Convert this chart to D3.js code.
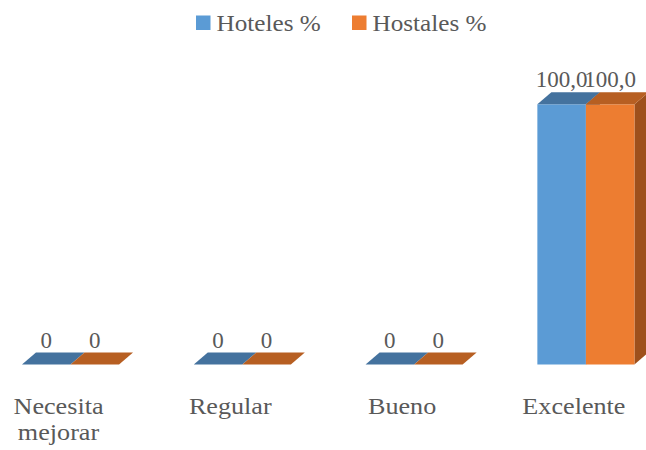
<!DOCTYPE html>
<html>
<head>
<meta charset="utf-8">
<script src="https://cdn.jsdelivr.net/npm/d3@7"></script>
<style>
  html, body { margin: 0; padding: 0; background: #fff; }
  svg { display: block; }
</style>
</head>
<body>
<svg id="chart" width="646" height="450"></svg>
<script>
// Ratings and percentages for hotels and hostels
const categories = [["Necesita", "mejorar"], ["Regular"], ["Bueno"], ["Excelente"]];
const seriesNames = ["Hoteles %", "Hostales %"];
const hoteles = [0, 0, 0, 100];
const hostales = [0, 0, 0, 100];
const valueLabels = [["0", "0", "0", "100,0"], ["0", "0", "0", "100,0"]];

const colors = [
  { front: "#5B9BD5", top: "#44729E", side: "#3E6C96" },
  { front: "#ED7D31", top: "#B75F22", side: "#9E501C" }
];
const FONT = '"Liberation Serif"';
const TEXT_COLOR = "#595959";

const svg = d3.select("#chart");
const depthX = 14, depthY = 12;

const x0 = d3.scaleBand()
  .domain(d3.range(categories.length))
  .range([-15.4, 671.8])
  .paddingInner(0.435)
  .paddingOuter(0.2175);

const x1 = d3.scaleBand()
  .domain(d3.range(seriesNames.length))
  .range([0, x0.bandwidth()]);

const y = d3.scaleLinear().domain([0, 100]).range([364.5, 104.3]);

const series = [hoteles, hostales];

// Text placed at (x, y), slightly widened horizontally
function label(x, yy, size, sx) {
  return svg.append("text")
    .attr("transform", `translate(${x},${yy}) scale(${sx},1)`)
    .style("font-family", FONT)
    .style("font-size", size + "px")
    .style("fill", TEXT_COLOR);
}

// Draw each series as pseudo-3D prisms: side, front, top faces
series.forEach((vals, s) => {
  const g = svg.append("g");
  vals.forEach((v, i) => {
    const xl = x0(i) + x1(s);
    const w = x1.bandwidth();
    const yt = y(v), yb = y(0);
    if (yb - yt > 0) {
      g.append("path")
        .attr("d", `M${xl + w},${yt} L${xl + w + depthX},${yt - depthY} L${xl + w + depthX},${yb - depthY} L${xl + w},${yb} Z`)
        .attr("fill", colors[s].side);
      g.append("rect")
        .attr("x", xl).attr("y", yt)
        .attr("width", w).attr("height", yb - yt)
        .attr("fill", colors[s].front);
    }
    g.append("path")
      .attr("d", `M${xl},${yt} L${xl + depthX},${yt - depthY} L${xl + w + depthX},${yt - depthY} L${xl + w},${yt} Z`)
      .attr("fill", colors[s].top);
  });
});

// Value labels above each prism
series.forEach((vals, s) => {
  vals.forEach((v, i) => {
    label(x0(i) + x1(s) + x1.bandwidth() / 2, y(v) - depthY - 5, 23, 1.0)
      .attr("text-anchor", "middle")
      .text(valueLabels[s][i]);
  });
});

// Category axis labels
categories.forEach((lines, i) => {
  const cx = x0(i) + x0.bandwidth() / 2 - 12;
  const t = label(cx, 414, 24, 1.09).attr("text-anchor", "middle");
  lines.forEach((ln, k) => {
    t.append("tspan")
      .attr("x", 0)
      .attr("dy", k === 0 ? 0 : 26)
      .text(ln);
  });
});

// Legend
const legendX = [196, 352];
seriesNames.forEach((name, s) => {
  svg.append("rect")
    .attr("x", legendX[s]).attr("y", 15.5)
    .attr("width", 14.5).attr("height", 14.5)
    .attr("fill", colors[s].front);
  label(legendX[s] + 20.5, 31, 24, 1.05).text(name);
});
</script>
</body>
</html>
